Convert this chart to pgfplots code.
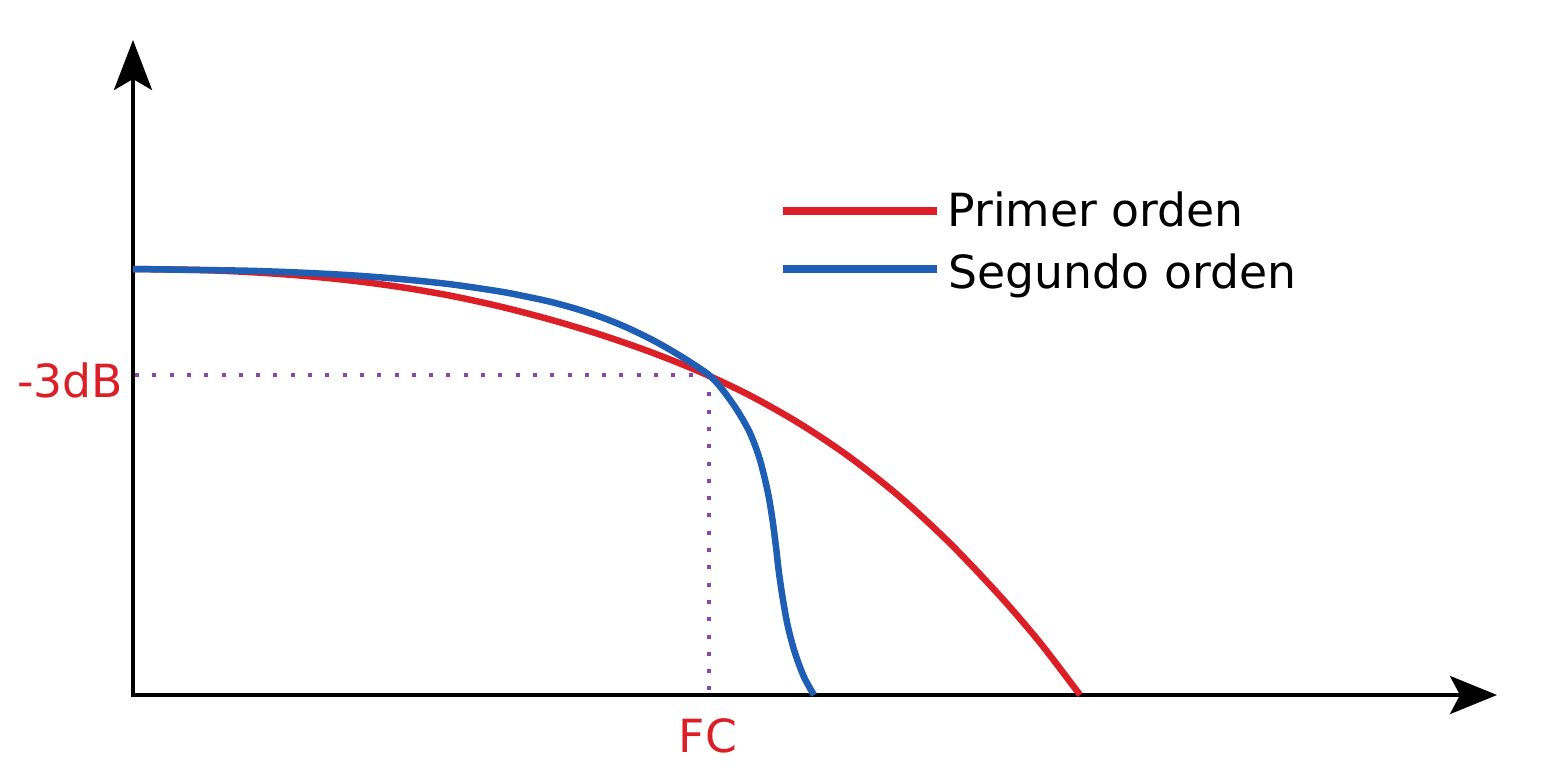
\documentclass[border=0pt]{standalone}
\usepackage{pgfplots}
\pgfplotsset{compat=1.18}
\usepackage{fontspec}
\setmainfont{DejaVu Sans}
\usetikzlibrary{arrows.meta}
\definecolor{cred}{HTML}{DC1F26}
\definecolor{cblue}{HTML}{1E5EB4}
\definecolor{cpurple}{HTML}{8E44AD}
\begin{document}
\begin{tikzpicture}
\begin{axis}[
  scale only axis, width=155.3mm, height=77.6mm,
  xmin=0, xmax=1553, ymin=0, ymax=776, y dir=reverse,
  hide axis, clip=false,
]
\path (axis cs:0,0) rectangle (axis cs:1553,776);
% axes
\addplot[black, line width=0.4mm, -{Stealth[length=5mm,width=3.8mm,inset=1.1mm]}] coordinates {(133,697) (133,40)};
\addplot[black, line width=0.4mm, -{Stealth[length=4.7mm,width=3.8mm,inset=1.0mm]}] coordinates {(131,695) (1497,695)};
% dotted guides
\addplot[cpurple, line width=0.4mm, line cap=butt, dash pattern=on 0.4mm off 1.33mm] coordinates {(135,375) (709,375)};
\addplot[cpurple, line width=0.4mm, line cap=butt, dash pattern=on 0.4mm off 1.33mm] coordinates {(709,375) (709,692)};
% first order
\addplot[cred, line width=0.65mm, smooth] coordinates {
(133,269) (200,270) (250,272.1) (300,275.5) (350,280.4) (400,287) (450,295.6) (500,306.5)
(550,319.5) (600,334.5) (650,351.8) (700,371.8) (750,395.5) (800,423.8) (850,457.3)
(900,497) (950,543.3) (1000,596) (1040,642.6) (1080,695)};
% second order
\addplot[cblue, line width=0.65mm, smooth] coordinates {
(133,269) (200,270) (250,270.8) (300,272.6) (350,275.2) (400,279) (450,284.2) (500,291.5)
(525,296.3) (550,301.7) (575,308.5) (600,316.7) (625,326.7) (650,338.7) (670,349.7)
(690,362) (709,375) (722,389) (737,410) (750,433) (760,460) (768,493) (772.5,520)
(776,547) (779,573) (783,600) (788,627) (795,653) (804,677) (814,695)};
% legend
\addplot[cred, line width=0.75mm] coordinates {(783,211) (937,211)};
\addplot[cblue, line width=0.75mm] coordinates {(783,269) (937,269)};
\node[anchor=base west, inner sep=0pt, font=\fontsize{13}{15}\selectfont] at (axis cs:947,226) {Primer orden};
\node[anchor=base west, inner sep=0pt, font=\fontsize{13}{15}\selectfont] at (axis cs:948,288) {Segundo orden};
% labels
\node[anchor=base, inner sep=0pt, text=cred, font=\fontsize{13}{15}\selectfont] at (axis cs:70,397) {-3dB};
\node[anchor=base, inner sep=0pt, text=cred, font=\fontsize{13}{15}\selectfont] at (axis cs:708,752) {FC};
\end{axis}
\end{tikzpicture}
\end{document}
